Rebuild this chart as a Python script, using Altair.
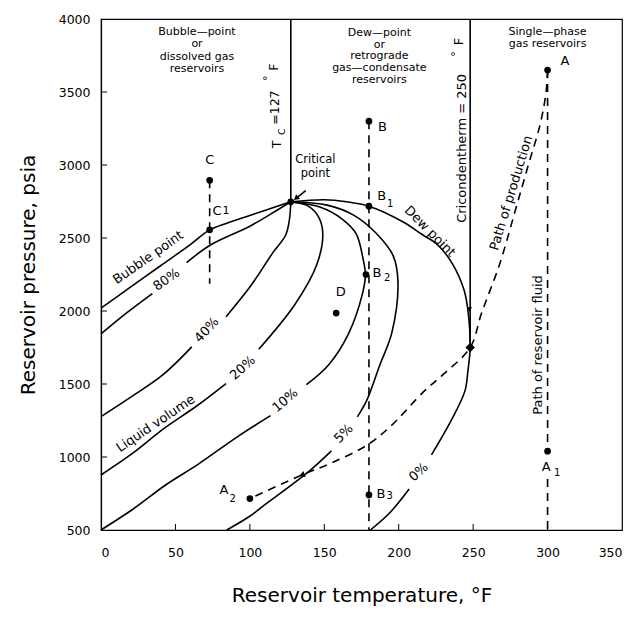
import altair as alt
import pandas as pd

FONT = "DejaVu Sans"

# ---------------- axes ----------------
x_ticks = [0, 50, 100, 150, 200, 250, 300, 350]
y_ticks = [500, 1000, 1500, 2000, 2500, 3000, 3500, 4000]
x_inner_ticks = [50, 100, 150, 200, 250, 300]
y_inner_ticks = [1000, 1500, 2000, 2500, 3000, 3500]

# ---------------- solid curves (temperature F, pressure psia) ----------------
bubble_T = [0, 20, 40, 60, 73, 85, 98, 113, 127.5]
bubble_P = [2020, 2165, 2310, 2455, 2556, 2603, 2648, 2699, 2748]

p80a_T = [0, 17, 34.5]
p80a_P = [1843, 1985, 2119]
p80b_T = [57.5, 73, 100, 115, 127.5]
p80b_P = [2331, 2449, 2581, 2670, 2748]

p40a_T = [0, 19.5, 41.5, 61]
p40a_P = [1277, 1407, 1562, 1754]
p40b_T = [84, 100.5, 115.7, 124, 126.5, 127.5]
p40b_P = [1961, 2171, 2403, 2519, 2620, 2748]

p20a_T = [0, 20.4, 42.4, 64.5, 84]
p20a_P = [877, 1019, 1196, 1351, 1503]
p20b_T = [106, 130, 145, 149, 146.4, 139.5, 127.5]
p20b_P = [1738, 2041, 2319, 2525, 2639, 2717, 2748]

p10a_T = [0, 21.4, 43.4, 65.4, 91.8, 113.9]
p10a_P = [500, 642, 808, 951, 1140, 1283]
p10b_T = [138, 153.3, 166.3, 175.7, 177.6, 176.2, 171.3, 162, 147, 127.5]
p10b_P = [1495, 1636, 1845, 2121, 2250, 2349, 2531, 2630, 2712, 2748]

p5a_T = [84.5, 99.9, 111, 139.5, 154.8]
p5a_P = [500, 594, 680, 900, 1042]
p5b_T = [172.2, 178.6, 187, 195.4, 199.5, 196.3, 184.7, 170, 152, 127.5]
p5b_P = [1275, 1390, 1622, 1852, 2196, 2378, 2534, 2655, 2725, 2748]

dew_T = [127.5, 150, 165, 180, 203, 216, 226, 236, 244, 247, 248, 246.5, 244.5, 235, 222]
dew_P = [2748, 2762, 2748, 2718, 2610, 2522, 2455, 2325, 2140, 1960, 1750, 1591, 1453, 1245, 1014]
p0_T = [207, 194, 181]
p0_P = [781, 618, 500]

tc_T = [127.5, 127.5]
tc_P = [2748, 4000]
cric_T = [248, 248]
cric_P = [1750, 4000]
arrow_T = [137.5, 131.5]
arrow_P = [2825, 2775]

# ---------------- dashed paths ----------------
c_path_T = [73, 73]
c_path_P = [2895, 2186]
b_path_T = [180, 180]
b_path_P = [3300, 500]
a_path_T = [300, 300]
a_path_P = [3650, 1040]
a_low_T = [300, 300]
a_low_P = [850, 500]
prod_T = [300, 299, 295, 287, 278.5, 268, 255.5, 248, 229.7, 216.6, 194.7, 179.3, 155, 135, 100]
prod_P = [3650, 3500, 3278, 2997, 2695, 2327, 1981, 1750, 1564, 1446, 1212, 1085, 960, 877, 715]

# ---------------- points ----------------
pt_T = [73, 73, 127.5, 180, 180, 178, 180, 158, 300, 300, 100]
pt_P = [2895, 2556, 2748, 3300, 2718, 2250, 740, 1986, 3650, 1040, 715]
diamond_T = [248]
diamond_P = [1750]

# arrowheads (triangle-up rotated clockwise by angle)
head_T = [131, 135, 247.5]
head_P = [2772, 877, 2010]
head_angle = [231, 248, 180]
head_size = [38, 42, 26]

# ---------------- text ----------------
txt_label = [
    "Bubble\u2014point", "or", "dissolved gas", "reservoirs",
    "Dew\u2014point", "or", "retrograde", "gas\u2014condensate", "reservoirs",
    "Single\u2014phase", "gas reservoirs",
    "Critical", "point",
    "T", "C", "=127", "\u00b0", "F",
    "Cricondentherm = 250", "\u00b0", "F",
    "Bubble point", "80%", "40%", "20%", "10%", "5%", "0%", "Liquid volume",
    "Dew point", "Path of production", "Path of reservoir fluid",
    "C", "C", "1", "B", "B", "1", "B", "2", "B", "3", "D", "A", "A", "1", "A", "2",
]
txt_T = [
    64.5, 64.5, 64.5, 64.5,
    187, 187, 187, 187, 187,
    300, 300,
    144, 144,
    118.3, 121.3, 116.6, 112.5, 116,
    242.4, 238.5, 240.6,
    31.7, 44, 71, 95.2, 123.7, 163, 213.4, 36.7,
    221, 275.6, 293.3,
    73, 78, 84, 189, 188.5, 194.3, 185.4, 192.2, 188, 194, 161, 311.6, 299, 306.4, 82.6, 88.4,
]
txt_P = [
    3909, 3826, 3743, 3660,
    3905, 3825, 3745, 3665, 3585,
    3908, 3826,
    3031, 2937,
    3141, 3228, 3393, 3594, 3670,
    3114, 3760, 3846,
    2366, 2215, 1870, 1610, 1388, 1160, 897, 1229,
    2545, 2808, 1767,
    3031, 2687, 2687, 3260, 2786, 2730, 2260, 2228, 750, 730, 2129, 3712, 933, 888, 772, 712,
]
txt_angle = [
    0, 0, 0, 0,
    0, 0, 0, 0, 0,
    0, 0,
    0, 0,
    270, 270, 270, 270, 270,
    270, 270, 270,
    325, 325, 313, 318, 320, 315, 318, 326,
    45, 287, 270,
    0, 0, 0, 0, 0, 0, 0, 0, 0, 0, 0, 0, 0, 0, 0, 0,
]
txt_size = [
    11, 11, 11, 11,
    11, 11, 11, 11, 11,
    11, 11,
    11.5, 11.5,
    12.5, 9.5, 12.5, 11, 12.5,
    13, 11, 13,
    13, 13, 13, 13, 13, 13, 13, 13,
    13, 13, 13,
    13, 13, 11, 13, 13, 10, 13, 10, 13, 10, 13, 13, 13, 10, 13, 10,
]

# ---------------- build tables ----------------
def seg_rows(name, Ts, Ps):
    return [{"key": name, "i": k, "T": t, "P": p} for k, (t, p) in enumerate(zip(Ts, Ps))]

solid = []
for name, Ts, Ps in [
    ("bubble", bubble_T, bubble_P), ("80a", p80a_T, p80a_P), ("80b", p80b_T, p80b_P),
    ("40a", p40a_T, p40a_P), ("40b", p40b_T, p40b_P), ("20a", p20a_T, p20a_P),
    ("20b", p20b_T, p20b_P), ("10a", p10a_T, p10a_P), ("10b", p10b_T, p10b_P),
    ("5a", p5a_T, p5a_P), ("5b", p5b_T, p5b_P), ("dew", dew_T, dew_P), ("0", p0_T, p0_P),
    ("tc", tc_T, tc_P), ("cric", cric_T, cric_P), ("arrow", arrow_T, arrow_P),
]:
    solid += seg_rows(name, Ts, Ps)
solid_df = pd.DataFrame(solid)

dashed = []
for name, Ts, Ps in [
    ("c", c_path_T, c_path_P), ("b", b_path_T, b_path_P), ("a", a_path_T, a_path_P),
    ("alow", a_low_T, a_low_P), ("prod", prod_T, prod_P),
]:
    dashed += seg_rows(name, Ts, Ps)
dashed_df = pd.DataFrame(dashed)

pts_df = pd.DataFrame({"T": pt_T, "P": pt_P})
dia_df = pd.DataFrame({"T": diamond_T, "P": diamond_P})
head_df = pd.DataFrame({"T": head_T, "P": head_P, "angle": head_angle, "size": head_size})
txt_df = pd.DataFrame({"label": txt_label, "T": txt_T, "P": txt_P,
                       "angle": txt_angle, "size": txt_size})
xt_df = pd.DataFrame({"T": x_inner_ticks})
yt_df = pd.DataFrame({"P": y_inner_ticks})

xscale = alt.Scale(domain=[0, 350], nice=False, zero=False)
yscale = alt.Scale(domain=[500, 4000], nice=False, zero=False)

X = alt.X("T:Q", scale=xscale,
          axis=alt.Axis(values=x_ticks, format="d", title="Reservoir temperature, \u00b0F",
                        grid=False, ticks=False, labelPadding=16, titlePadding=27,
                        labelFontSize=12.5, titleFontSize=20, labelFont=FONT,
                        titleFont=FONT, titleFontWeight="normal", labelColor="black",
                        titleColor="black", domainColor="black", domainWidth=1.2))
Y = alt.Y("P:Q", scale=yscale,
          axis=alt.Axis(values=y_ticks, format="d", title="Reservoir pressure, psia",
                        grid=False, ticks=False, labelPadding=11, titlePadding=20,
                        labelFontSize=12.5, titleFontSize=20, labelFont=FONT,
                        titleFont=FONT, titleFontWeight="normal", labelColor="black",
                        titleColor="black", domainColor="black", domainWidth=1.2))
Xn = alt.X("T:Q", scale=xscale)
Yn = alt.Y("P:Q", scale=yscale)

solid_layer = alt.Chart(solid_df).mark_line(
    interpolate="catmull-rom", color="black", strokeWidth=1.6
).encode(x=X, y=Y, detail="key:N", order="i:Q")

dashed_layer = alt.Chart(dashed_df).mark_line(
    interpolate="catmull-rom", color="black", strokeWidth=1.6, strokeDash=[8, 6]
).encode(x=Xn, y=Yn, detail="key:N", order="i:Q")

pts_layer = alt.Chart(pts_df).mark_point(
    filled=True, color="black", opacity=1, size=45
).encode(x=Xn, y=Yn)

dia_layer = alt.Chart(dia_df).mark_point(
    shape="diamond", filled=True, color="black", opacity=1, size=90
).encode(x=Xn, y=Yn)

head_layer = alt.Chart(head_df).mark_point(
    shape="triangle-up", filled=True, color="black", opacity=1
).encode(x=Xn, y=Yn, angle=alt.Angle("angle:Q", scale=None),
         size=alt.Size("size:Q", scale=None))

txt_layer = alt.Chart(txt_df).mark_text(
    font=FONT, color="black", align="center", baseline="middle"
).encode(x=Xn, y=Yn, text="label:N",
         angle=alt.Angle("angle:Q", scale=None),
         size=alt.Size("size:Q", scale=None))

xtick_layer = alt.Chart(xt_df).mark_rule(color="black", strokeWidth=1).encode(
    x=Xn, y=alt.value(511), y2=alt.value(505))
ytick_layer = alt.Chart(yt_df).mark_rule(color="black", strokeWidth=1).encode(
    y=Yn, x=alt.value(0), x2=alt.value(6))

chart = alt.layer(
    solid_layer, dashed_layer, xtick_layer, ytick_layer,
    pts_layer, dia_layer, head_layer, txt_layer
).properties(
    width=521, height=511,
    autosize=alt.AutoSizeParams(type="none"),
    padding={"left": 93, "top": 11, "right": 8, "bottom": 82},
    background="white",
).configure_view(stroke="black", strokeWidth=1.2)

chart.save("out.html", embed_options={"renderer": "svg", "actions": False})
